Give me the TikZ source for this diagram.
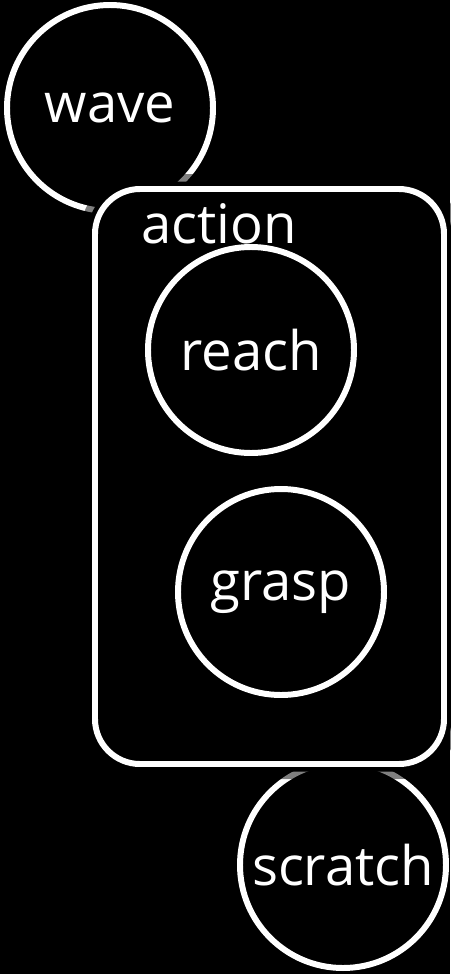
\documentclass[tikz,border=0pt]{standalone}
\usepackage{fontspec}
\setmainfont{Open Sans}
\usetikzlibrary{positioning}
\tikzset{
  %% white ring with a word inside
  C/.style={circle, draw=white, fill=black, line width=3.4pt,
            minimum size=4.12cm, inner sep=0pt,
            font=\fontsize{31}{34}\selectfont, text=white},
  %% grouping box, with a dark halo so rings behind it fade out
  GRP/.style={rectangle, rounded corners=0.9cm, draw=white, fill=black,
              line width=3.4pt, minimum width=6.98cm, minimum height=11.5cm,
              preaction={draw=black, opacity=0.5, line width=0.6cm},
              preaction={draw=black, line width=0.3cm}},
  LBL/.style={font=\fontsize{31}{34}\selectfont, text=white},
}
\begin{document}
\begin{tikzpicture}

%% background and page size
\fill[black] (0,0) rectangle (9,-19.48);
\useasboundingbox (0,0) rectangle (9,-19.48);

%% rings behind the box
\node[C] (wave)    at (2.20, -2.16)  {wave};
\node[C] (scratch) at (6.86, -17.30) {scratch};

%% the box
\node[GRP] (action) at (5.39, -9.53) {};
\node[LBL, below right=0.22cm and 0.86cm of action.north west,
      anchor=north west] (actionlbl) {action};

%% rings inside the box
\node[C] (reach) at (5.02, -7.00)  {reach};
\node[C] (grasp) at (5.62, -11.84) {grasp};

\end{tikzpicture}
\end{document}
